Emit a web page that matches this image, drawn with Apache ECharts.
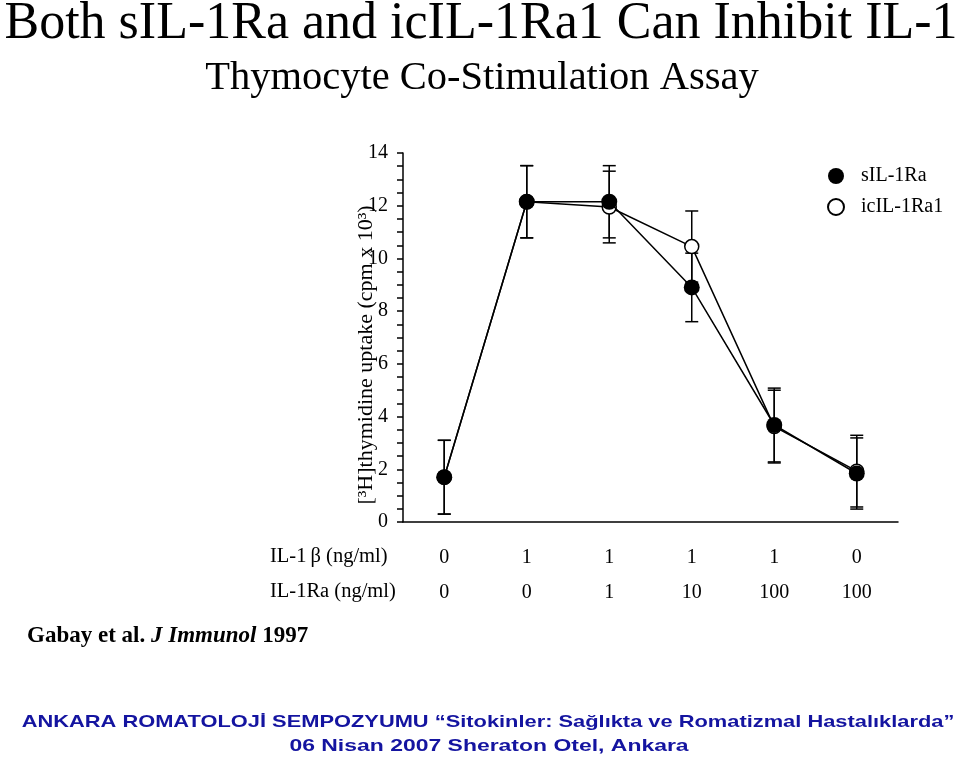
<!DOCTYPE html>
<html>
<head>
<meta charset="utf-8">
<script src="https://cdn.jsdelivr.net/npm/echarts@6/dist/echarts.min.js"></script>
<style>html,body{margin:0;padding:0;background:#fff;}#c{width:960px;height:761px;}</style>
</head>
<body>
<div id="c"></div>
<script>
// ---- data ----
const il1b = ['0', '1', '1', '1', '1', '0'];
const il1ra = ['0', '0', '1', '10', '100', '100'];
const sIL1Ra = [1.70, 12.15, 12.15, 8.90, 3.68, 1.84];
const sIL1RaErr = [1.40, 1.37, 1.37, 1.30, 1.40, 1.35];
const icIL1Ra1 = [1.70, 12.15, 11.95, 10.45, 3.62, 1.93];
const icIL1Ra1Err = [1.40, 1.37, 1.36, 1.35, 1.38, 1.36];
const yTicks = [0, 2, 4, 6, 8, 10, 12, 14];

const categories = il1b.map((v, i) => v + '\n' + il1ra[i]);
const serif = '"Liberation Serif", "Times New Roman", serif';
const sans = '"Liberation Sans", Arial, sans-serif';

function errData(vals, errs) {
  return vals.map((v, i) => [i, v - errs[i], v + errs[i]]);
}
function renderErr(params, api) {
  const x = api.value(0);
  const lo = api.coord([x, api.value(1)]);
  const hi = api.coord([x, api.value(2)]);
  const w = 6.5;
  const st = { stroke: '#000', lineWidth: 1.5 };
  return {
    type: 'group',
    children: [
      { type: 'line', shape: { x1: lo[0], y1: lo[1], x2: hi[0], y2: hi[1] }, style: st },
      { type: 'line', shape: { x1: lo[0] - w, y1: lo[1], x2: lo[0] + w, y2: lo[1] }, style: st },
      { type: 'line', shape: { x1: hi[0] - w, y1: hi[1], x2: hi[0] + w, y2: hi[1] }, style: st }
    ]
  };
}

const chart = echarts.init(document.getElementById('c'), null, { renderer: 'canvas' });
chart.setOption({
  backgroundColor: '#fff',
  animation: false,
  grid: { left: 403, right: 62, top: 153, bottom: 239, containLabel: false },
  legend: {
    orient: 'vertical',
    left: 822,
    top: 161,
    itemWidth: 16,
    itemHeight: 16,
    itemGap: 11,
    icon: 'circle',
    data: ['sIL-1Ra', 'icIL-1Ra1'],
    textStyle: { fontFamily: serif, fontSize: 20, color: '#000', padding: [0, 0, 0, 12] }
  },
  xAxis: {
    type: 'category',
    data: categories,
    boundaryGap: true,
    axisLine: { lineStyle: { color: '#000', width: 1.5 } },
    axisTick: { show: false },
    axisLabel: {
      fontFamily: serif, fontSize: 20, color: '#000',
      lineHeight: 35, margin: 18, interval: 0
    }
  },
  yAxis: {
    type: 'value',
    min: yTicks[0],
    max: yTicks[yTicks.length - 1],
    interval: 2,
    axisLine: { show: true, lineStyle: { color: '#000', width: 1.5 } },
    axisTick: { show: true, length: 6, lineStyle: { color: '#000', width: 1.5 } },
    minorTick: { show: true, splitNumber: 4, length: 6, lineStyle: { color: '#000', width: 1.5 } },
    splitLine: { show: false },
    axisLabel: { fontFamily: serif, fontSize: 20, color: '#000', margin: 15 }
  },
  series: [
    {
      type: 'custom', name: 'errIc', renderItem: renderErr,
      data: errData(icIL1Ra1, icIL1Ra1Err), z: 2, silent: true
    },
    {
      type: 'custom', name: 'errS', renderItem: renderErr,
      data: errData(sIL1Ra, sIL1RaErr), z: 2, silent: true
    },
    {
      name: 'icIL-1Ra1', type: 'line', data: icIL1Ra1, z: 3,
      symbol: 'circle', symbolSize: 14,
      lineStyle: { color: '#000', width: 1.5 },
      itemStyle: { color: '#fff', borderColor: '#000', borderWidth: 1.5 }
    },
    {
      name: 'sIL-1Ra', type: 'line', data: sIL1Ra, z: 4,
      symbol: 'circle', symbolSize: 16,
      lineStyle: { color: '#000', width: 1.5 },
      itemStyle: { color: '#000', borderColor: '#000', borderWidth: 0 }
    }
  ],
  graphic: [
    { type: 'text', x: 481, y: 24,
      style: { text: 'Both sIL-1Ra and icIL-1Ra1 Can Inhibit IL-1', font: '52px ' + serif, fill: '#000',
        align: 'center', verticalAlign: 'middle' } },
    { type: 'text', x: 482, y: 78,
      style: { text: 'Thymocyte Co-Stimulation Assay', font: '40.5px ' + serif, fill: '#000',
        align: 'center', verticalAlign: 'middle' } },
    { type: 'text', x: 366, y: 355, rotation: Math.PI / 2,
      style: { text: '[³H]thymidine uptake (cpm x 10³)', font: '22px ' + serif, fill: '#000',
        align: 'center', verticalAlign: 'middle' } },
    { type: 'text', x: 270, y: 557,
      style: { text: 'IL-1\u2009β (ng/ml)', font: '20.5px ' + serif, fill: '#000', verticalAlign: 'middle' } },
    { type: 'text', x: 270, y: 592,
      style: { text: 'IL-1Ra (ng/ml)', font: '20.5px ' + serif, fill: '#000', verticalAlign: 'middle' } },
    { type: 'text', x: 27, y: 636,
      style: {
        text: '{b|Gabay et al. }{i|J Immunol}{b| 1997}',
        verticalAlign: 'middle',
        rich: {
          b: { fontFamily: serif, fontWeight: 'bold', fontSize: 23, color: '#000' },
          i: { fontFamily: serif, fontWeight: 'bold', fontStyle: 'italic', fontSize: 23, color: '#000' }
        }
      } },
    { type: 'text', x: 488, y: 722, scaleX: 1.285,
      style: { text: 'ANKARA ROMATOLOJİ SEMPOZYUMU \u201cSitokinler: Sağlıkta ve Romatizmal Hastalıklarda\u201d',
        font: 'bold 17px ' + sans, fill: '#1414a0', align: 'center', verticalAlign: 'middle' } },
    { type: 'text', x: 489, y: 746, scaleX: 1.35,
      style: { text: '06 Nisan 2007 Sheraton Otel, Ankara',
        font: 'bold 17px ' + sans, fill: '#1414a0', align: 'center', verticalAlign: 'middle' } }
  ]
});
</script>
</body>
</html>
